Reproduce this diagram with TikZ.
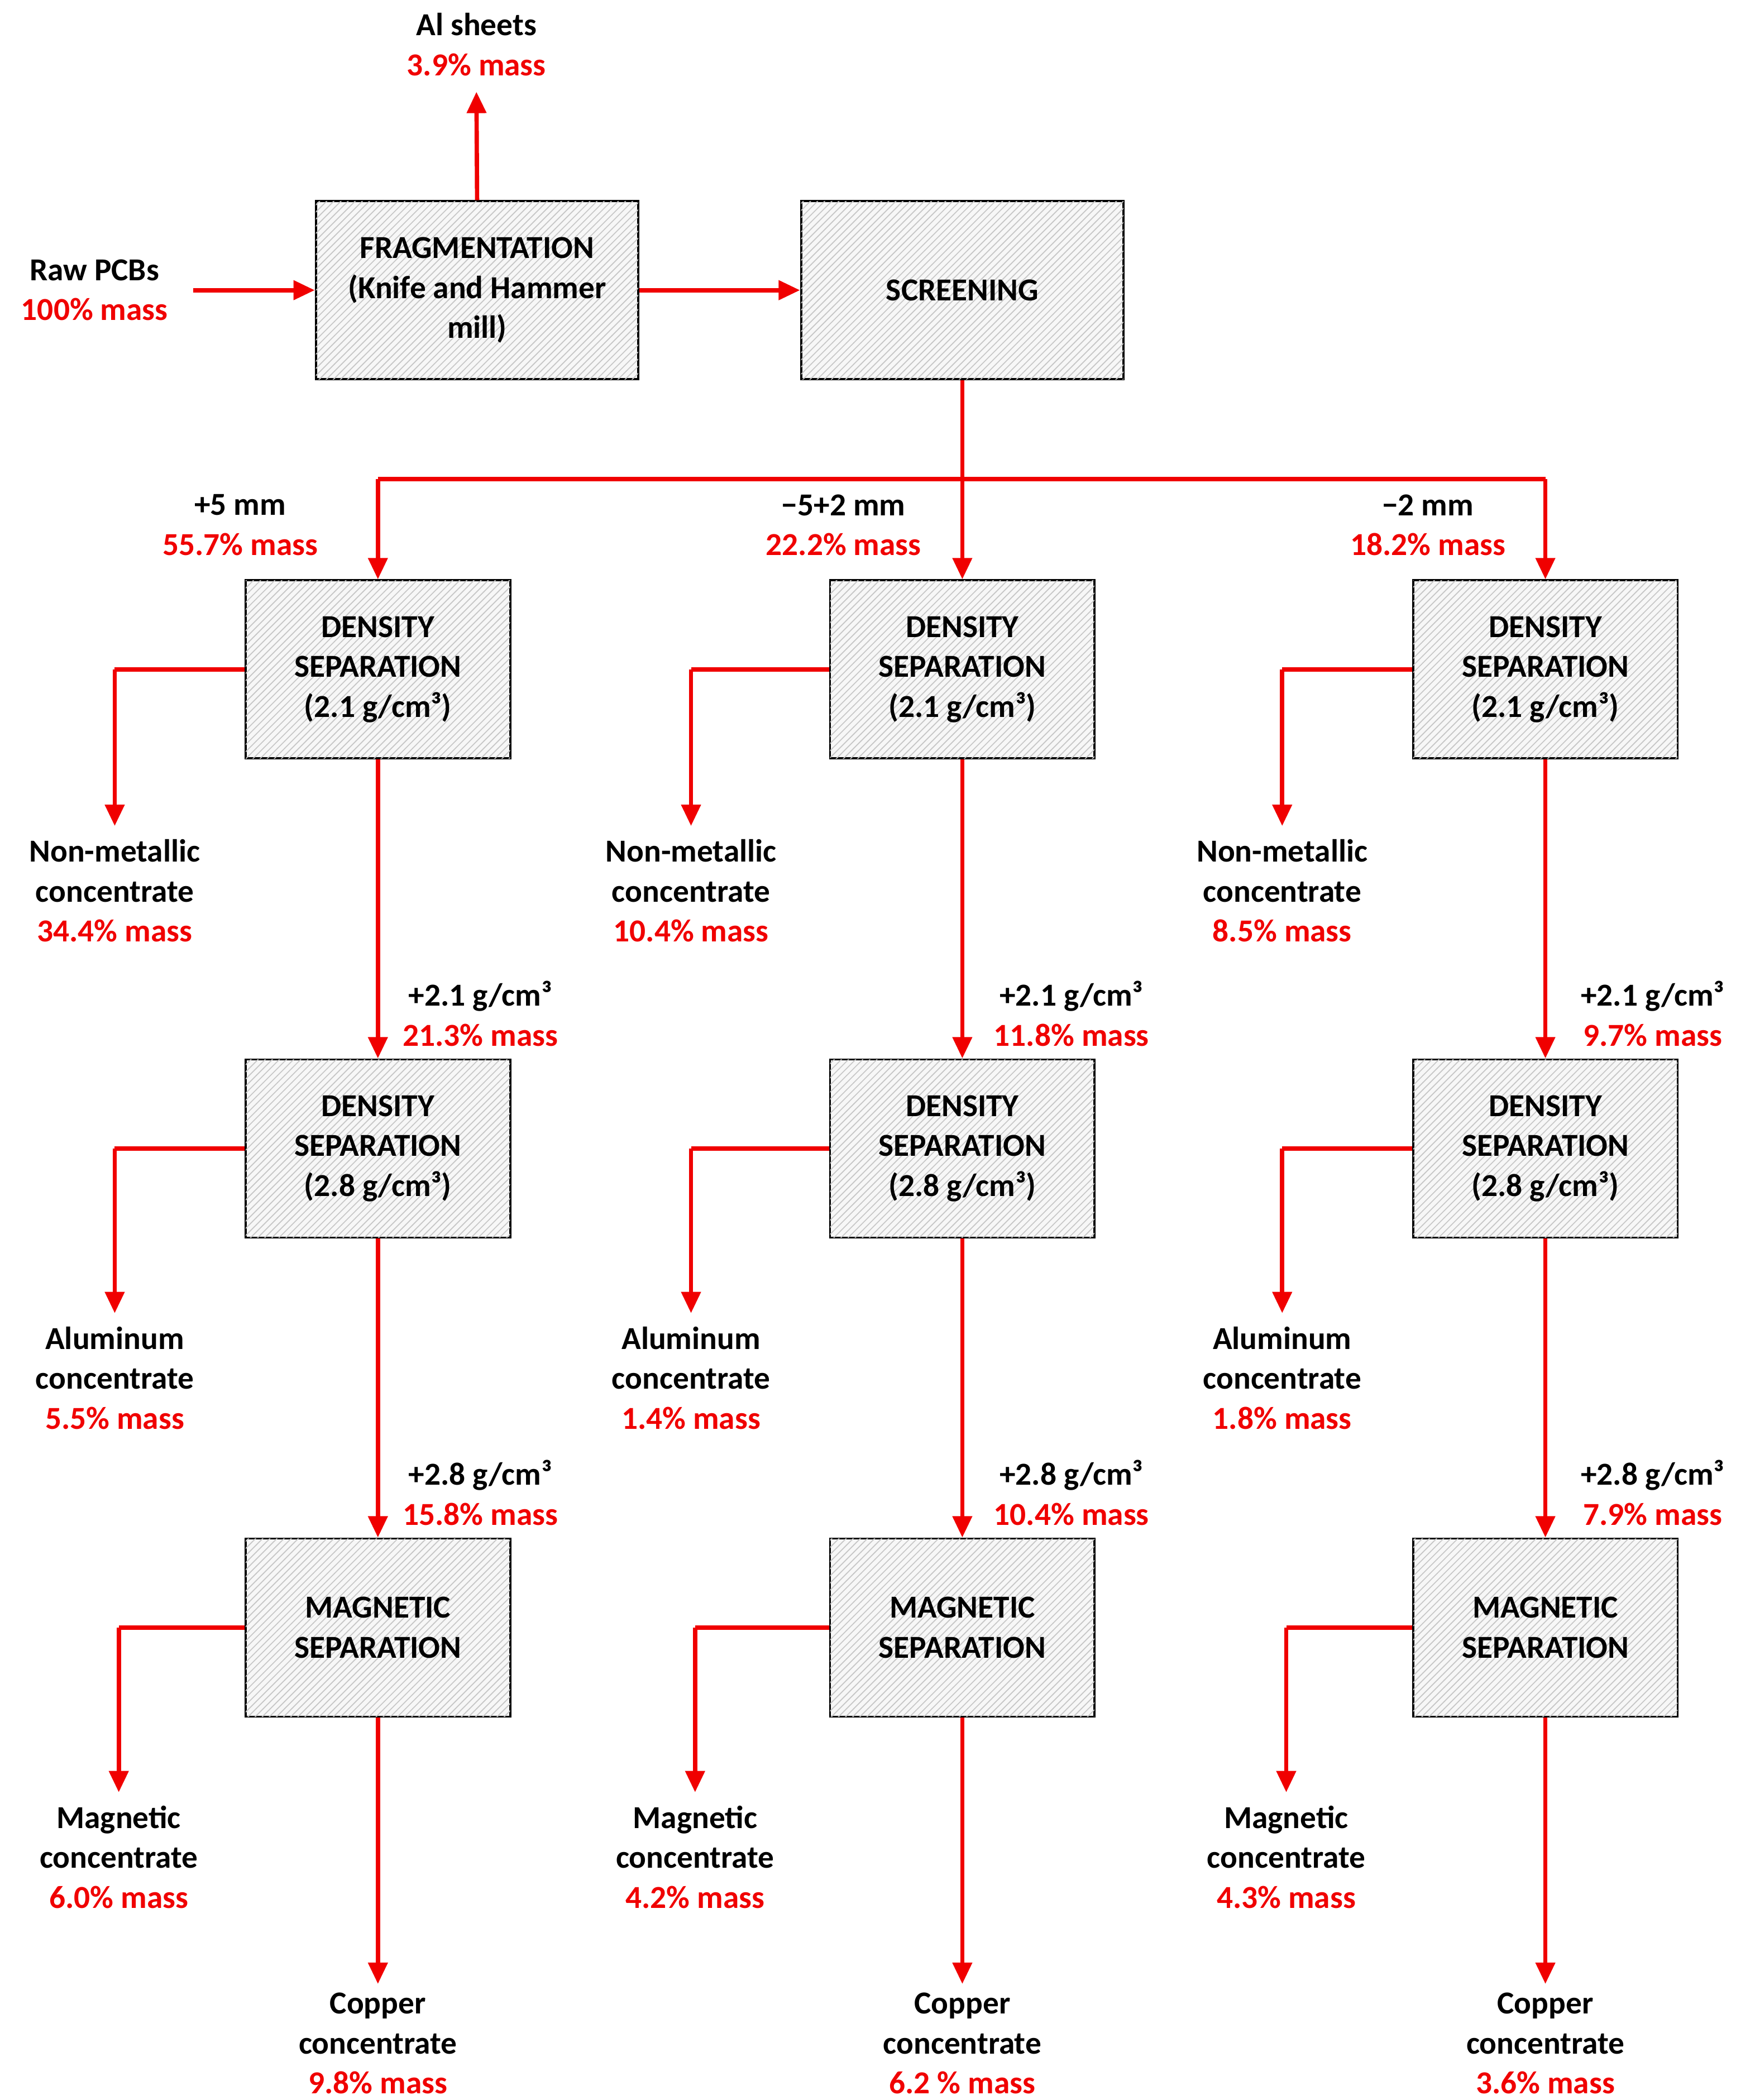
\documentclass[tikz,border=0pt]{standalone}
\usepackage{fontspec}
\setmainfont{Carlito}
\usetikzlibrary{patterns,arrows.meta}
\definecolor{rd}{RGB}{240,0,0}
\begin{document}
\begin{tikzpicture}[x=0.02cm,y=-0.02cm,
  box/.style={draw=black,line width=0.9pt,fill=gray!6,postaction={pattern=north east lines,pattern color=gray!45},
    minimum height=2.64cm,align=center,font=\fontsize{13.5}{16.8}\selectfont\bfseries,inner sep=2pt},
  big/.style={box,minimum width=4.78cm},
  sm/.style={box,minimum width=3.92cm},
  txt/.style={align=center,font=\fontsize{13.5}{16.8}\selectfont\bfseries,inner sep=0pt},
  arr/.style={draw=rd,line width=1.8pt,-{Triangle[length=9pt,width=8pt]}},
  ln/.style={draw=rd,line width=1.8pt}]
\useasboundingbox (0,0) rectangle (1300,1556);
\node[big] (frag) at (353.5,215) {FRAGMENTATION\\(Knife and Hammer\\mill)};
\node[big] (scr) at (713,215) {SCREENING};
\node[txt] (raw) at (70,215) {Raw PCBs\\\textcolor{rd}{100\% mass}};
\node[txt] (al) at (353,33) {Al sheets\\\textcolor{rd}{3.9\% mass}};
\coordinate (rawend) at (143,215);
\coordinate (alend) at (353,68);
\draw[arr] (rawend) -- (frag.west);
\draw[arr] (frag.north) -- (alend);
\draw[arr] (frag.east) -- (scr.west);
\coordinate (j) at (713,355);
\draw[ln] (scr.south) -- (j);
\foreach \n/\x/\bx/\lx/\la/\lm/\nm/\alm/\dtwo/\dthree/\mg/\cu/\ltx/\mx in {
 1/280/85/178/{+5 mm}/{55.7}/{34.4}/{5.5}/{21.3}/{15.8}/{6.0}/{9.8\%}/362/88,
 2/713/512/625/{−5+2 mm}/{22.2}/{10.4}/{1.4}/{11.8}/{10.4}/{4.2}/{6.2 \%}/800/515,
 3/1145/950/1058/{−2 mm}/{18.2}/{8.5}/{1.8}/{9.7}/{7.9}/{4.3}/{3.6\%}/1235/953}{
  \node[sm] (d1\n) at (\x,496) {DENSITY\\SEPARATION\\(2.1 g/cm³)};
  \node[sm] (d2\n) at (\x,851) {DENSITY\\SEPARATION\\(2.8 g/cm³)};
  \node[sm] (m\n) at (\x,1206) {MAGNETIC\\SEPARATION};
  \coordinate (t\n) at (\x,355);
  \draw[arr] (t\n) -- (d1\n.north);
  \node[txt] (in\n) at (\lx,389) {\la\\\textcolor{rd}{\lm\% mass}};
  \coordinate (a\n) at (\bx,496); \coordinate (ae\n) at (\bx,612);
  \draw[ln] (d1\n.west) -- (a\n);
  \draw[arr] (a\n) -- (ae\n);
  \node[txt] (nm\n) at (\bx,660) {Non-metallic\\concentrate\\\textcolor{rd}{\nm\% mass}};
  \draw[arr] (d1\n.south) -- (d2\n.north);
  \node[txt,anchor=west] (p2\n) at (\ltx-64,751) {+2.1 g/cm³\\\textcolor{rd}{\dtwo\% mass}};
  \coordinate (b\n) at (\bx,851); \coordinate (be\n) at (\bx,973);
  \draw[ln] (d2\n.west) -- (b\n);
  \draw[arr] (b\n) -- (be\n);
  \node[txt] (alc\n) at (\bx,1021) {Aluminum\\concentrate\\\textcolor{rd}{\alm\% mass}};
  \draw[arr] (d2\n.south) -- (m\n.north);
  \node[txt,anchor=west] (p3\n) at (\ltx-64,1106) {+2.8 g/cm³\\\textcolor{rd}{\dthree\% mass}};
  \coordinate (c\n) at (\mx,1206); \coordinate (ce\n) at (\mx,1328);
  \draw[ln] (m\n.west) -- (c\n);
  \draw[arr] (c\n) -- (ce\n);
  \node[txt] (mgc\n) at (\mx,1376) {Magnetic\\concentrate\\\textcolor{rd}{\mg\% mass}};
  \coordinate (e\n) at (\x,1470);
  \draw[arr] (m\n.south) -- (e\n);
  \node[txt] (cu\n) at (\x,1514) {Copper\\concentrate\\\textcolor{rd}{\cu{} mass}};
}
\draw[ln] (t1) -- (t3);
\end{tikzpicture}
\end{document}
